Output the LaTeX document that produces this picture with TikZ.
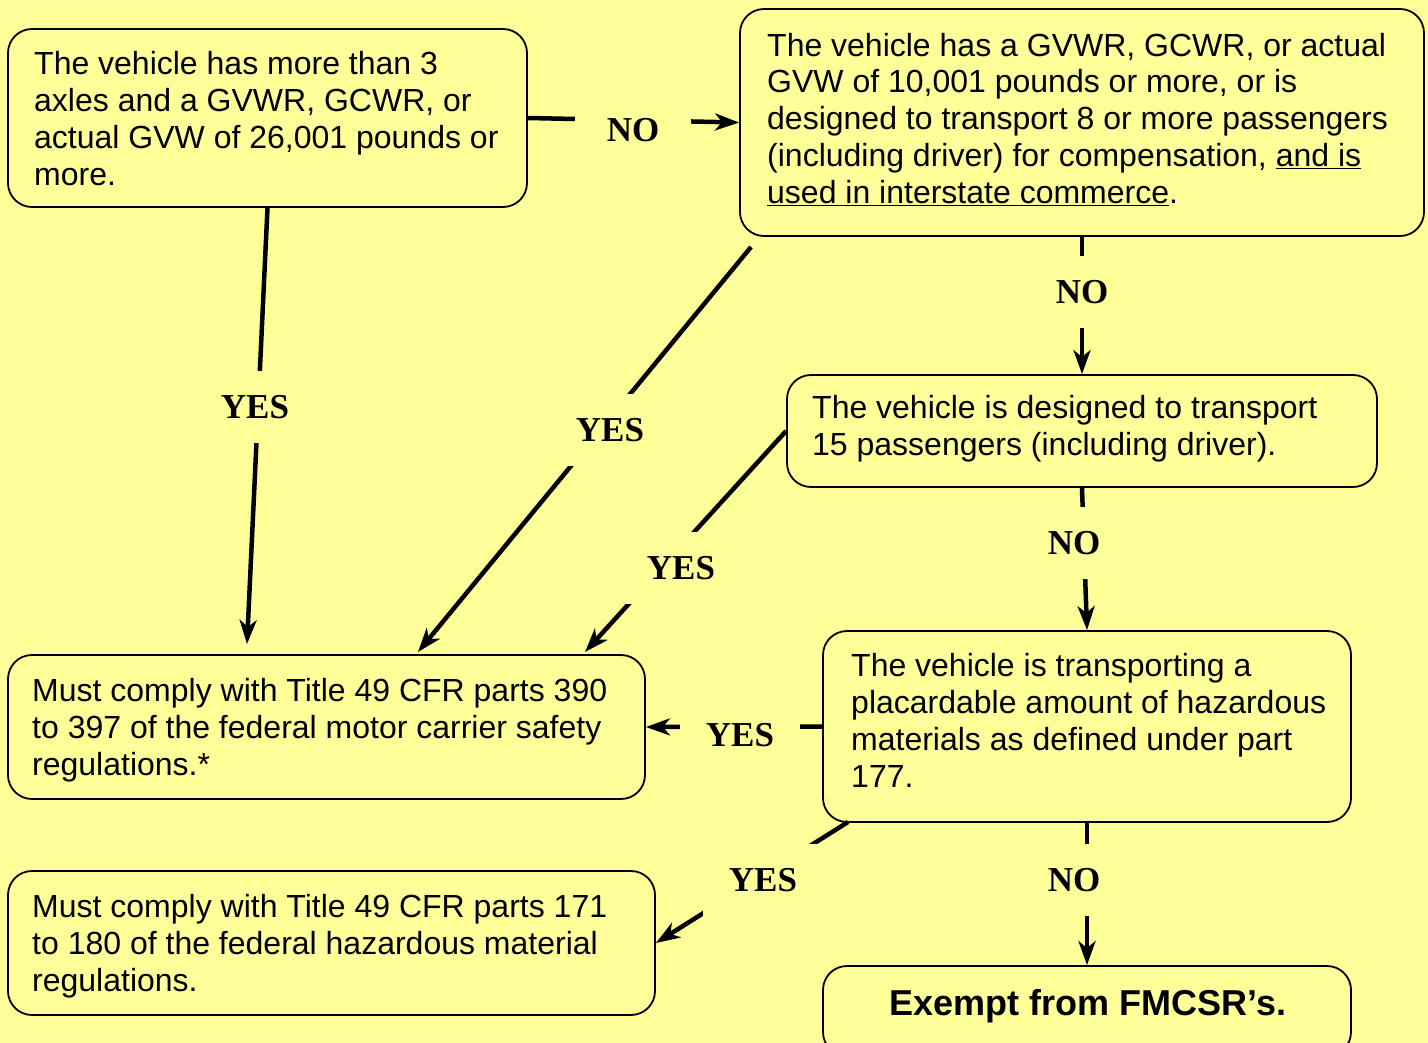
\documentclass[tikz,border=0pt]{standalone}
\usepackage{fontspec}
\setmainfont{Liberation Sans}
\newfontfamily\lblfont{Liberation Serif}
\usetikzlibrary{arrows.meta}
\definecolor{bg}{HTML}{FFFF99}
\begin{document}
\begin{tikzpicture}[x=1pt,y=-1pt,
  box/.style={draw, line width=1.8pt, rounded corners=24pt, fill=bg, inner sep=0pt},
  txt/.style={align=left, inner sep=0pt, anchor=north west, font=\fontsize{32}{36.8}\selectfont},
  conn/.style={line width=4.5pt, -{Stealth[length=24pt,width=17pt,inset=7pt]}},
  lbl/.style={fill=bg, inner xsep=26pt, inner ysep=24pt, font=\lblfont\bfseries\fontsize{35}{35}\selectfont}]
\fill[bg] (0,0) rectangle (1428,1043);
\useasboundingbox (0,0) rectangle (1428,1043);

% boxes
\node[box, minimum width=519pt, minimum height=178pt] (A) at (267.5,118) {};
\node[box, minimum width=684pt, minimum height=227pt] (B) at (1082,122.5) {};
\node[box, minimum width=590pt, minimum height=112pt] (C) at (1082,431) {};
\node[box, minimum width=637pt, minimum height=144pt] (D) at (326.5,727) {};
\node[box, minimum width=528pt, minimum height=191pt] (E) at (1087,726.5) {};
\node[box, minimum width=647pt, minimum height=144pt] (F) at (331.5,943) {};
\node[box, minimum width=528pt, minimum height=90pt] (G) at (1087,1011) {};

% texts
\node[txt] (At) at (34,51.5) {The vehicle has more than 3\\axles and a GVWR, GCWR, or\\actual GVW of 26,001 pounds or\\more.};
\node[txt] (Bt) at (767,32.8) {The vehicle has a GVWR, GCWR, or actual\\GVW of 10,001 pounds or more, or is\\designed to transport 8 or more passengers\\(including driver) for compensation, \underline{and is}\\\underline{used in interstate commerce}.};
\node[txt] (Ct) at (812,395.5) {The vehicle is designed to transport\\15 passengers (including driver).};
\node[txt] (Dt) at (32,678.5) {Must comply with Title 49 CFR parts 390\\to 397 of the federal motor carrier safety\\regulations.*};
\node[txt] (Et) at (851,653.5) {The vehicle is transporting a\\placardable amount of hazardous\\materials as defined under part\\177.};
\node[txt] (Ft) at (32,894.5) {Must comply with Title 49 CFR parts 171\\to 180 of the federal hazardous material\\regulations.};
\node[inner sep=0pt, font=\bfseries\fontsize{36}{40}\selectfont, anchor=base] (Gt) at (1088,1015) {Exempt from FMCSR’s.};

% connector end points
\coordinate (a1) at (247,644);
\coordinate (b1) at (751,247);
\coordinate (d1) at (418,652);
\coordinate (d2) at (585,652);
\coordinate (e1) at (848,822);

% connectors
\draw[conn] (A.south) -- (a1);
\draw[conn] (A.east) -- (B.west);
\draw[conn] (b1) -- (d1);
\draw[conn] (B.south) -- (C.north);
\draw[conn] (C.west) -- (d2);
\draw[conn] (C.south) -- (E.north);
\draw[conn] (E.west) -- (D.east);
\draw[conn] (e1) -- (F.east);
\draw[conn] (E.south) -- (G.north);

% labels
\node[lbl] (L1) at (255,407) {YES};
\node[lbl, inner xsep=32pt] (L2) at (633,130) {NO};
\node[lbl] (L3) at (610,430) {YES};
\node[lbl] (L4) at (1082,292) {NO};
\node[lbl] (L5) at (681,568) {YES};
\node[lbl] (L6) at (1074,543) {NO};
\node[lbl] (L7) at (740,735) {YES};
\node[lbl] (L8) at (763,880) {YES};
\node[lbl] (L9) at (1074,880) {NO};
\end{tikzpicture}
\end{document}
